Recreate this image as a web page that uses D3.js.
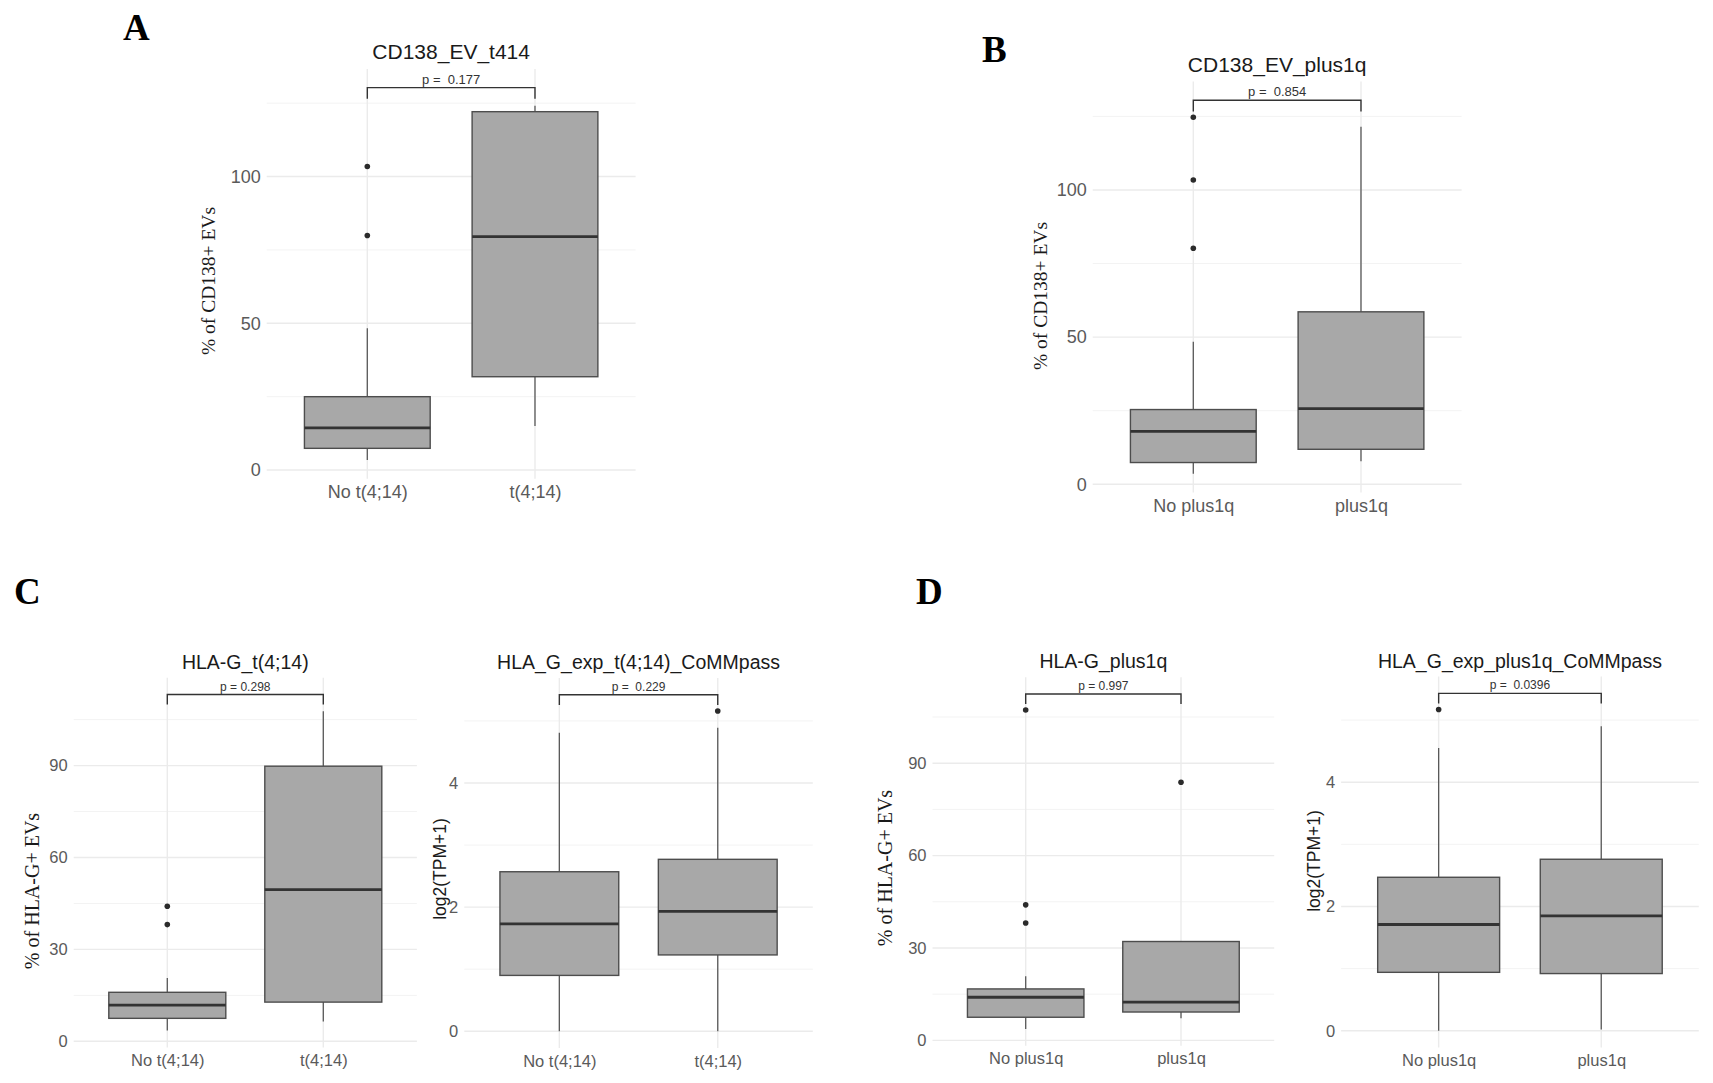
<!DOCTYPE html>
<html>
<head>
<meta charset="utf-8">
<script src="https://cdn.jsdelivr.net/npm/d3@7"></script>
<style>
  body { margin: 0; background: #fff; }
  svg { display: block; }
</style>
</head>
<body>
<div id="wrapper"></div>
<script>
// ---- data ----
const catsT414 = ["No t(4;14)", "t(4;14)"]
const catsPlus1q = ["No plus1q", "plus1q"]

// each group: [lower whisker, q1, median, q3, upper whisker]
const cd138T414Boxes = [[3.4, 7.4, 14.4, 25.0, 48.3], [15.0, 31.8, 79.5, 122.1, 124.1]]
const cd138T414Outliers = [[103.4, 79.9], []]

const cd138Plus1qBoxes = [[3.6, 7.4, 18.0, 25.4, 48.4], [7.8, 11.9, 25.7, 58.6, 121.5]]
const cd138Plus1qOutliers = [[124.7, 103.4, 80.2], []]

const hlagT414Boxes = [[3.5, 7.5, 11.8, 16.0, 20.7], [6.5, 12.8, 49.5, 89.8, 107.7]]
const hlagT414Outliers = [[44.1, 38.1], []]

const hlagExpT414Boxes = [[0.0, 0.90, 1.73, 2.57, 4.81], [0.0, 1.23, 1.93, 2.77, 4.89]]
const hlagExpT414Outliers = [[], [5.16]]

const hlagPlus1qBoxes = [[3.7, 7.5, 14.0, 16.7, 20.8], [7.2, 9.2, 12.4, 32.1, 32.1]]
const hlagPlus1qOutliers = [[107.3, 44.0, 38.1], [83.8]]

const hlagExpPlus1qBoxes = [[0.0, 0.94, 1.71, 2.47, 4.55], [0.02, 0.92, 1.85, 2.76, 4.90]]
const hlagExpPlus1qOutliers = [[5.17], []]

// bracket heights (data units) and p-value labels
const bracketValues = [130.3, 130.5, 113.2, 5.42, 112.5, 5.43]
const pLabels = ["p =  0.177", "p =  0.854", "p = 0.298", "p =  0.229", "p = 0.997", "p =  0.0396"]

const titles = ["CD138_EV_t414", "CD138_EV_plus1q", "HLA-G_t(4;14)",
    "HLA_G_exp_t(4;14)_CoMMpass", "HLA-G_plus1q", "HLA_G_exp_plus1q_CoMMpass"]
const yTitles = ["% of CD138+ EVs", "% of CD138+ EVs", "% of HLA-G+ EVs",
    "log2(TPM+1)", "% of HLA-G+ EVs", "log2(TPM+1)"]

const ticksPct50 = [0, 50, 100]
const minorPct50 = [25, 75, 125]
const ticksPct30 = [0, 30, 60, 90]
const minorPct30 = [15, 45, 75, 105]
const ticksLog = [0, 2, 4]
const minorLog = [1, 3, 5]

const letters = ["A", "B", "C", "D"]

// ---- layout ----
const width = 1713
const height = 1083

const big = { title: 21, tick: 18, xlab: 18, ylab: 19.5, p: 13, titleGap: 10 }
const small = { title: 19.5, tick: 16.5, xlab: 16.5, ylab: 20, p: 12, titleGap: 9 }

const panels = [
    { cats: catsT414, boxes: cd138T414Boxes, outliers: cd138T414Outliers, ticks: ticksPct50, minor: minorPct50,
      left: 266.7, right: 635.6, top: 69, bottom: 478.7, ylabX: 208, ylabY: 281, serif: true, f: big },
    { cats: catsPlus1q, boxes: cd138Plus1qBoxes, outliers: cd138Plus1qOutliers, ticks: ticksPct50, minor: minorPct50,
      left: 1092.7, right: 1461.6, top: 81.5, bottom: 492.4, ylabX: 1040, ylabY: 296, serif: true, f: big },
    { cats: catsT414, boxes: hlagT414Boxes, outliers: hlagT414Outliers, ticks: ticksPct30, minor: minorPct30,
      left: 73.7, right: 416.9, top: 677.7, bottom: 1047.4, ylabX: 32, ylabY: 891, serif: true, f: small },
    { cats: catsT414, boxes: hlagExpT414Boxes, outliers: hlagExpT414Outliers, ticks: ticksLog, minor: minorLog,
      left: 464.3, right: 812.8, top: 678, bottom: 1048.1, ylabX: 440, ylabY: 869, serif: false, f: small },
    { cats: catsPlus1q, boxes: hlagPlus1qBoxes, outliers: hlagPlus1qOutliers, ticks: ticksPct30, minor: minorPct30,
      left: 932.5, right: 1274.2, top: 677.2, bottom: 1045.7, ylabX: 885, ylabY: 868, serif: true, f: small },
    { cats: catsPlus1q, boxes: hlagExpPlus1qBoxes, outliers: hlagExpPlus1qOutliers, ticks: ticksLog, minor: minorLog,
      left: 1341.1, right: 1698.8, top: 676.5, bottom: 1047.6, ylabX: 1314, ylabY: 861, serif: false, f: small },
]

const letterPos = [[123, 39.5], [982, 62], [14, 603.5], [916, 603.5]]

const sans = "'Liberation Sans', Arial, sans-serif"
const serif = "'Liberation Serif', 'Times New Roman', serif"

const svg = d3.select("#wrapper")
    .append("svg")
        .attr("width", width)
        .attr("height", height)

svg.append("rect")
    .attr("width", width)
    .attr("height", height)
    .attr("fill", "#fff")

function drawPanel(p, i) {
    const g = svg.append("g")

    const lo = d3.min([...p.boxes.map(b => b[0]), ...p.outliers.flat()])
    const hi = bracketValues[i]
    const pad = (hi - lo) * 0.05

    const yScale = d3.scaleLinear()
        .domain([lo - pad, hi + pad])
        .range([p.bottom, p.top])

    const xScale = d3.scalePoint()
        .domain(p.cats)
        .range([p.left, p.right])
        .padding(0.6)

    const boxW = xScale.step() * 0.75

    // grid
    g.append("g").selectAll("line")
        .data(p.minor)
        .join("line")
            .attr("x1", p.left).attr("x2", p.right)
            .attr("y1", d => yScale(d)).attr("y2", d => yScale(d))
            .attr("stroke", "#f3f3f3")
            .attr("stroke-width", 1)
    g.append("g").selectAll("line")
        .data(p.ticks)
        .join("line")
            .attr("x1", p.left).attr("x2", p.right)
            .attr("y1", d => yScale(d)).attr("y2", d => yScale(d))
            .attr("stroke", "#ebebeb")
            .attr("stroke-width", 1.4)
    g.append("g").selectAll("line")
        .data(p.cats)
        .join("line")
            .attr("x1", d => xScale(d)).attr("x2", d => xScale(d))
            .attr("y1", p.top).attr("y2", p.bottom)
            .attr("stroke", "#ebebeb")
            .attr("stroke-width", 1.4)

    // axes (text only)
    const yAxis = g.append("g")
        .attr("transform", `translate(${p.left},0)`)
        .call(d3.axisLeft(yScale)
            .tickValues(p.ticks)
            .tickFormat(d3.format("d"))
            .tickSize(0)
            .tickPadding(6))
    yAxis.select(".domain").remove()
    yAxis.selectAll("text")
        .attr("fill", "#5a5a5a")
        .style("font-family", sans)
        .style("font-size", p.f.tick + "px")

    const xAxis = g.append("g")
        .attr("transform", `translate(0,${p.bottom})`)
        .call(d3.axisBottom(xScale).tickSize(0).tickPadding(7))
    xAxis.select(".domain").remove()
    xAxis.selectAll("text")
        .attr("fill", "#5a5a5a")
        .style("font-family", sans)
        .style("font-size", p.f.xlab + "px")

    // boxes
    const groups = p.cats.map((c, j) => ({ cat: c, s: p.boxes[j], out: p.outliers[j] }))

    const bx = g.append("g").selectAll("g")
        .data(groups)
        .join("g")

    bx.append("line")
        .attr("x1", d => xScale(d.cat)).attr("x2", d => xScale(d.cat))
        .attr("y1", d => yScale(d.s[0])).attr("y2", d => yScale(d.s[1]))
        .attr("stroke", "#595959").attr("stroke-width", 1.3)
    bx.append("line")
        .attr("x1", d => xScale(d.cat)).attr("x2", d => xScale(d.cat))
        .attr("y1", d => yScale(d.s[3])).attr("y2", d => yScale(d.s[4]))
        .attr("stroke", "#595959").attr("stroke-width", 1.3)
    bx.append("rect")
        .attr("x", d => xScale(d.cat) - boxW / 2)
        .attr("width", boxW)
        .attr("y", d => yScale(d.s[3]))
        .attr("height", d => yScale(d.s[1]) - yScale(d.s[3]))
        .attr("fill", "#a8a8a8")
        .attr("stroke", "#4d4d4d")
        .attr("stroke-width", 1.4)
    bx.append("line")
        .attr("x1", d => xScale(d.cat) - boxW / 2).attr("x2", d => xScale(d.cat) + boxW / 2)
        .attr("y1", d => yScale(d.s[2])).attr("y2", d => yScale(d.s[2]))
        .attr("stroke", "#333").attr("stroke-width", 2.8)
    bx.selectAll("circle")
        .data(d => d.out.map(v => ({ cat: d.cat, v })))
        .join("circle")
            .attr("cx", d => xScale(d.cat))
            .attr("cy", d => yScale(d.v))
            .attr("r", 2.8)
            .attr("fill", "#2b2b2b")

    // comparison bracket
    const tip = (hi - lo) * 0.03
    const x1 = xScale(p.cats[0])
    const x2 = xScale(p.cats[1])
    g.append("path")
        .attr("d", `M${x1},${yScale(hi - tip)}V${yScale(hi)}H${x2}V${yScale(hi - tip)}`)
        .attr("fill", "none")
        .attr("stroke", "#333")
        .attr("stroke-width", 1.4)
    g.append("text")
        .attr("x", (x1 + x2) / 2)
        .attr("y", yScale(hi) - 4)
        .attr("text-anchor", "middle")
        .attr("fill", "#333")
        .style("font-family", sans)
        .style("font-size", p.f.p + "px")
        .style("white-space", "pre")
        .text(pLabels[i])

    // title
    g.append("text")
        .attr("x", (p.left + p.right) / 2)
        .attr("y", p.top - p.f.titleGap)
        .attr("text-anchor", "middle")
        .attr("fill", "#1a1a1a")
        .style("font-family", sans)
        .style("font-size", p.f.title + "px")
        .text(titles[i])

    // y label
    g.append("text")
        .attr("transform", `translate(${p.ylabX},${p.ylabY}) rotate(-90)`)
        .attr("text-anchor", "middle")
        .attr("dy", "0.35em")
        .attr("fill", "#1a1a1a")
        .style("font-family", p.serif ? serif : sans)
        .style("font-size", (p.serif ? p.f.ylab : 17.5) + "px")
        .text(yTitles[i])
}

panels.forEach(drawPanel)

svg.append("g").selectAll("text")
    .data(letters)
    .join("text")
        .attr("x", (d, i) => letterPos[i][0])
        .attr("y", (d, i) => letterPos[i][1])
        .attr("fill", "#000")
        .style("font-family", serif)
        .style("font-weight", "bold")
        .style("font-size", "37px")
        .text(d => d)
</script>
</body>
</html>
